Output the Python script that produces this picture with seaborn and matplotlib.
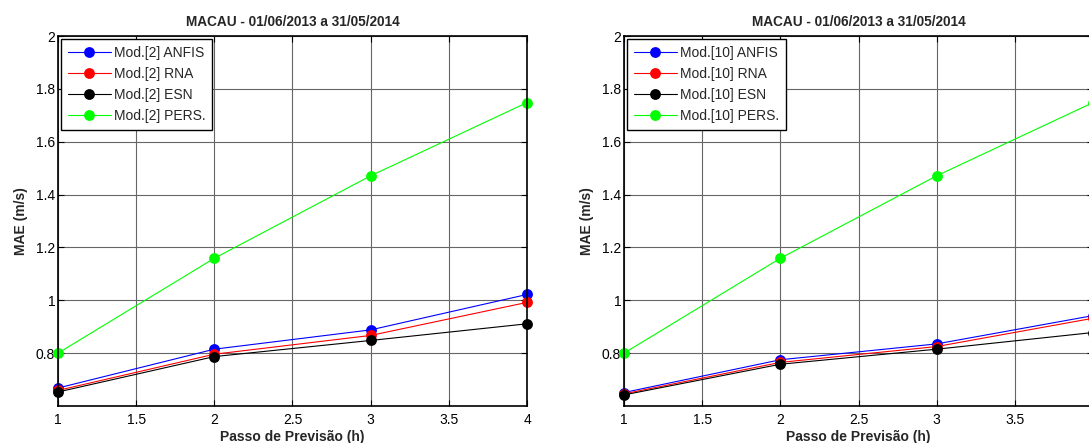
import numpy as np
import pandas as pd
import matplotlib
matplotlib.use("Agg")
import matplotlib.pyplot as plt
import seaborn as sns

# Dados (MAE em m/s)
passos = [1, 2, 3, 4]
modelos = ["ANFIS", "RNA", "ESN", "PERS."]
cores = ["#0000ff", "#ff0000", "#000000", "#00ff00"]

mod2_anfis = [0.668, 0.815, 0.888, 1.022]
mod2_rna = [0.659, 0.796, 0.867, 0.992]
mod2_esn = [0.653, 0.787, 0.848, 0.911]
mod2_pers = [0.800, 1.159, 1.471, 1.748]

mod10_anfis = [0.651, 0.775, 0.835, 0.942]
mod10_rna = [0.646, 0.765, 0.825, 0.932]
mod10_esn = [0.642, 0.758, 0.815, 0.878]
mod10_pers = [0.800, 1.159, 1.471, 1.748]

xticks = [1, 1.5, 2, 2.5, 3, 3.5, 4]
xtick_labels = ["1", "1.5", "2", "2.5", "3", "3.5", "4"]
yticks = [0.8, 1.0, 1.2, 1.4, 1.6, 1.8, 2.0]
ytick_labels = ["0.8", "1", "1.2", "1.4", "1.6", "1.8", "2"]

titulo = "MACAU - 01/06/2013 a 31/05/2014"

sns.set_style("ticks")
plt.rcParams['font.family'] = ['Liberation Sans', 'DejaVu Sans']


def monta_df(tag, series):
	rows = []
	for nome, vals in zip(modelos, series):
		for p, v in zip(passos, vals):
			rows.append({"passo": p, "mae": v, "modelo": f"Mod.[{tag}] {nome}"})
	return pd.DataFrame(rows)


def painel(ax, tag, series):
	df = monta_df(tag, series)
	labels = [f"Mod.[{tag}] {m}" for m in modelos]
	sns.lineplot(
		data=df, x="passo", y="mae", hue="modelo", hue_order=labels,
		palette=cores, marker="o", markersize=7.8, markeredgewidth=0,
		linewidth=0.8, legend=False, ax=ax, clip_on=False
	)
	ax.set_xlim(1, 4)
	ax.set_ylim(0.6, 2.0)
	ax.set_xticks(xticks)
	ax.set_xticklabels(xtick_labels)
	ax.set_yticks(yticks)
	ax.set_yticklabels(ytick_labels)
	ax.tick_params(direction="in", top=True, right=True, length=4, width=0.8,
				   labelsize=10, colors="black")
	ax.tick_params(axis="x", pad=5)
	ax.tick_params(axis="y", pad=2)
	ax.grid(True, color="0.4", linewidth=0.8)
	ax.set_axisbelow(True)
	for s in ax.spines.values():
		s.set_color("black")
		s.set_linewidth(1.2)
	ax.set_title(titulo, fontsize=9.8, fontweight="bold", pad=7)
	ax.set_xlabel("Passo de Previsão (h)", fontsize=10, fontweight="bold", labelpad=2.5)
	ax.set_ylabel("MAE (m/s)", fontsize=10, fontweight="bold", labelpad=6)
	leg = ax.legend(
		handles=ax.lines[:4], labels=labels, loc="upper left",
		fontsize=10, frameon=True, fancybox=False, edgecolor="black",
		framealpha=1, handlelength=3.1, handletextpad=0.2,
		labelspacing=0.5, borderpad=0.5, borderaxespad=0.2
	)
	leg.get_frame().set_linewidth(1.0)


fig = plt.figure(figsize=(10.89, 4.43), dpi=100)
ax1 = fig.add_axes([58 / 1089, 37 / 443, 469 / 1089, 370 / 443])
ax2 = fig.add_axes([624 / 1089, 37 / 443, 469 / 1089, 370 / 443])

painel(ax1, 2, [mod2_anfis, mod2_rna, mod2_esn, mod2_pers])
painel(ax2, 10, [mod10_anfis, mod10_rna, mod10_esn, mod10_pers])

plt.savefig("out.png", dpi=100)
plt.close()
